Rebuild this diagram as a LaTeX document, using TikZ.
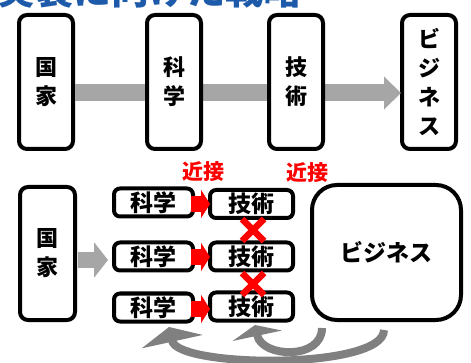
\documentclass[tikz,border=0pt]{standalone}
\usepackage{fontspec}
\setmainfont{Noto Sans CJK JP}
\usetikzlibrary{arrows.meta,calc}
\definecolor{ttlblue}{RGB}{30,90,170}
\definecolor{lgray}{RGB}{166,166,166}
\definecolor{dgray}{RGB}{128,128,128}
\definecolor{myred}{RGB}{255,0,0}
\tikzset{
  box/.style={draw=black, line width=4pt, fill=white, rounded corners=8pt, inner sep=0pt, align=center},
  vtext/.style={font=\bfseries\fontsize{22}{29}\selectfont},
  htext/.style={font=\bfseries\fontsize{23}{26}\selectfont},
  redlbl/.style={text=myred, font=\bfseries\fontsize{21}{24}\selectfont},
  grayarrow/.style={draw=lgray, line width=#1},
  redarrow/.style={draw=myred, line width=16pt, -{Triangle[width=28pt,length=9pt]}},
  redx/.style={draw=myred, line width=6.5pt},
  curvearrow/.style={draw=dgray, line width=8pt},
}
\begin{document}
\begin{tikzpicture}[x=1pt,y=-1pt]
\useasboundingbox (0,0) rectangle (471,363);
\clip (0,0) rectangle (471,363);
% title (cut off at top, as in the reference)
\node[anchor=base west, inner sep=0pt, text=ttlblue, font=\bfseries\fontsize{38}{40}\selectfont] (title) at (-3,5) {実装に向けた戦略};

% ---------- top row ----------
\node[box, vtext, minimum width=54pt, minimum height=134pt] (tk) at (46,82) {国\\家};
\node[box, vtext, minimum width=54pt, minimum height=134pt] (tb) at (429,82) {ビ\\ジ\\ネ\\ス};
\coordinate (tstart) at (75,93);
\coordinate (tend) at (401,93);
\draw[grayarrow=17pt, -{Triangle[width=32pt,length=17pt]}] (tstart) -- (tend);
\node[box, vtext, minimum width=54pt, minimum height=134pt] (ts) at (174,82) {科\\学};
\node[box, vtext, minimum width=54pt, minimum height=134pt] (tg) at (296,82) {技\\術};

% ---------- bottom ----------
\node[box, vtext, minimum width=55pt, minimum height=133pt] (bk) at (47.5,253.5) {国\\家};
\node[box, htext, minimum width=149pt, minimum height=135pt, rounded corners=25pt] (bb) at (386.5,252.5) {ビジネス};

\node[box, htext, minimum width=79pt, minimum height=28pt, rounded corners=6pt] (s1) at (153.5,202.5) {科学};
\node[box, htext, minimum width=79pt, minimum height=28pt, rounded corners=6pt] (s2) at (153.5,256.5) {科学};
\node[box, htext, minimum width=79pt, minimum height=28pt, rounded corners=6pt] (s3) at (153.5,307.5) {科学};
\node[box, htext, minimum width=83pt, minimum height=28pt, rounded corners=6pt] (g1) at (251.5,204) {技術};
\node[box, htext, minimum width=83pt, minimum height=28pt, rounded corners=6pt] (g2) at (251.5,256.5) {技術};
\node[box, htext, minimum width=83pt, minimum height=28pt, rounded corners=6pt] (g3) at (251.5,306.5) {技術};

% gray arrow from 国家
\coordinate (ga) at (78,260);
\coordinate (gb) at (108,260);
\draw[grayarrow=16pt, -{Triangle[width=35pt,length=14pt]}] (ga) -- (gb);

% red arrows
\coordinate (r1a) at (191,204);
\coordinate (r1b) at (210,204);
\coordinate (r2a) at (191,257);
\coordinate (r2b) at (210,257);
\coordinate (r3a) at (191,309);
\coordinate (r3b) at (210,309);
\draw[redarrow] (r1a) -- (r1b);
\draw[redarrow] (r2a) -- (r2b);
\draw[redarrow] (r3a) -- (r3b);

% red crosses
\coordinate (x1) at (253,230);
\coordinate (x2) at (253,284);
\foreach \c in {x1,x2}{
  \draw[redx] ($(\c)+(-11,-11)$) -- ($(\c)+(11,11)$);
  \draw[redx] ($(\c)+(-11,11)$) -- ($(\c)+(11,-11)$);
}

% labels
\node[redlbl] (n1) at (203,172) {近接};
\node[redlbl] (n2) at (307,173) {近接};

% curved arrows
\coordinate (c1s) at (322,328);
\coordinate (c1e) at (255,325);
\draw[curvearrow, -{Triangle[width=50pt,length=11pt]}] (c1s) .. controls (322,360) and (262,358) .. (c1e);
\coordinate (c2s) at (384,330);
\coordinate (c2e) at (169,327);
\draw[curvearrow, -{Triangle[width=62pt,length=15pt]}] (c2s) .. controls (384,370) and (178,368) .. (c2e);
\end{tikzpicture}
\end{document}
